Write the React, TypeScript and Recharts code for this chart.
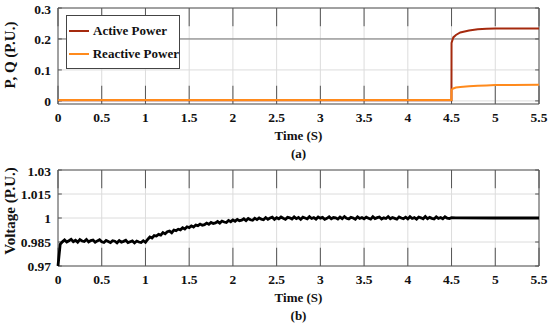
import React from "react";
import {
  LineChart,
  Line,
  XAxis,
  YAxis,
  CartesianGrid,
  ReferenceLine,
  ReferenceArea,
  Legend,
  Label,
} from "recharts";

// time axis ticks shared by both panels
const timeTicks = [0, 0.5, 1, 1.5, 2, 2.5, 3, 3.5, 4, 4.5, 5, 5.5];

// (a) active / reactive power
const powerTime = [0, 4.499, 4.5, 4.52, 4.55, 4.6, 4.7, 4.8, 4.9, 5.0, 5.2, 5.5];
const activePower = [0.002, 0.002, 0.187, 0.205, 0.213, 0.221, 0.227, 0.231, 0.233, 0.234, 0.234, 0.234];
const reactivePower = [0.003, 0.003, 0.036, 0.04, 0.043, 0.045, 0.047, 0.049, 0.05, 0.051, 0.051, 0.052];
const powerTicks = [0, 0.1, 0.2, 0.3];

// (b) voltage, sampled every 0.025 s from 0 to 4.5 s, then a settled tail
const voltStep = 0.025;
const voltSamples = [
  // 0 - 1.0 s
  0.97, 0.9836, 0.9851, 0.9863, 0.985, 0.9858, 0.9867, 0.9852, 0.9861, 0.9849,
  0.9865, 0.9856, 0.9853, 0.9866, 0.985, 0.9859, 0.9862, 0.9848, 0.9857, 0.9864,
  0.9851, 0.9847, 0.986, 0.9853, 0.9846, 0.9858, 0.9855, 0.9845, 0.9859, 0.9849,
  0.9854, 0.9861, 0.9846, 0.9852, 0.9857, 0.9844, 0.9856, 0.985, 0.9847, 0.9858,
  0.9848,
  // 1.025 - 2.5 s
  0.9866, 0.9881, 0.9875, 0.989, 0.9887, 0.9898, 0.9893, 0.9909, 0.9901, 0.9914,
  0.9918, 0.9908, 0.9925, 0.9921, 0.993, 0.9926, 0.9939, 0.9931, 0.9945, 0.994,
  0.9951, 0.9944, 0.9956, 0.9952, 0.9962, 0.9955, 0.9958, 0.9968, 0.9961, 0.9972,
  0.9966, 0.9969, 0.9978, 0.9968, 0.9981, 0.9975, 0.9972, 0.9985, 0.9977, 0.9988,
  0.998, 0.9991, 0.9983, 0.9986, 0.9995, 0.9984, 0.9997, 0.9989, 0.9986, 0.9999,
  0.999, 1.0001, 0.9993, 0.9989, 1.0003, 0.9992, 1.0, 1.0005, 0.9991, 1.0002,
  // 2.525 - 4.5 s
  0.9995, 1.0006, 0.9998, 0.9992, 1.0004, 1.0001, 0.9994, 1.0007, 0.9996, 1.0003,
  0.9991, 1.0005, 1.0, 0.9995, 1.0008, 0.9997, 1.0002, 0.9993, 1.0006, 0.9999,
  1.0004, 0.9992, 0.9998, 1.0007, 0.9995, 1.0003, 1.0001, 0.9993, 1.0006, 0.9996,
  1.0009, 0.9998, 0.9994, 1.0004, 1.0, 0.9992, 1.0007, 0.9997, 1.0003, 0.9995,
  1.0005, 0.9999, 0.9993, 1.0008, 0.9996, 1.0002, 1.0006, 0.9994, 1.0001, 0.9997,
  1.0009, 0.9995, 1.0003, 0.9998, 0.9993, 1.0007, 1.0, 0.9996, 1.0005, 0.9994,
  1.0008, 0.9997, 1.0002, 0.9993, 1.0006, 1.0001, 0.9995, 1.0009, 0.9996, 1.0004,
  0.9998, 0.9994, 1.0007, 0.9997, 1.0003, 0.9995, 1.0008, 0.9999, 0.9996, 1.0002,
];
const voltTailTime = [4.55, 5.0, 5.5];
const voltTail = [1.0001, 1.0, 1.0];
const voltTicks = [0.97, 0.985, 1, 1.015, 1.03];

const powerData = powerTime.map((t, i) => ({ t, p: activePower[i], q: reactivePower[i] }));
const voltData = [
  ...voltSamples.map((v, i) => ({ t: +(i * voltStep).toFixed(3), v })),
  ...voltTailTime.map((t, i) => ({ t, v: voltTail[i] })),
];

const FONT = "'Liberation Serif', 'Times New Roman', serif";
const ACTIVE = "#a52a0e";
const REACTIVE = "#ff8a1c";
const FRAME = "#555";
const TEXT = "#111";

const W = 550;
const H = 162;
const margin = { top: 8, right: 11, left: 0, bottom: 0 };
const X_MAX = 5.5;

const txt = (size: number): React.CSSProperties => ({
  fontFamily: FONT,
  fontWeight: 700,
  fontSize: size,
  fill: TEXT,
});

const XTick = ({ x, y, payload }: any) => (
  <text x={x} y={y} dy="0.71em" textAnchor="middle" style={txt(13.5)}>
    {payload.value}
  </text>
);

const YTick = ({ x, y, payload }: any) => (
  <text x={x} y={y} dy="0.36em" textAnchor="end" style={txt(13.5)}>
    {payload.value}
  </text>
);

// rotated y title, centred in the axis strip
const yTitle = (text: string, shift: number) => (
  <Label
    content={({ viewBox }: any) => {
      const cx = viewBox.x + 10;
      const cy = viewBox.y + viewBox.height / 2 + shift;
      return (
        <text x={cx} y={cy} transform={`rotate(-90 ${cx} ${cy})`} textAnchor="middle" dy="0.35em" style={txt(15)}>
          {text}
        </text>
      );
    }}
  />
);

// stacked captions under the time axis
const xTitle = (text: string, offset: number) => (
  <Label
    content={({ viewBox }: any) => (
      <text x={viewBox.x + viewBox.width / 2} y={viewBox.y + offset} dy="0.35em" textAnchor="middle" style={txt(13)}>
        {text}
      </text>
    )}
  />
);

// inward tick marks drawn as short segments, MATLAB style
const tickMarks = (yMin: number, yMax: number, yTicks: number[]) => {
  const xLen = (yMax - yMin) * 0.19;
  const yLen = X_MAX * 0.008;
  const out: React.ReactNode[] = [];
  timeTicks.forEach((x) => {
    out.push(
      <ReferenceLine key={`xt${x}`} segment={[{ x, y: yMax }, { x, y: yMax - xLen }]} stroke={FRAME} ifOverflow="visible" />,
      <ReferenceLine key={`xb${x}`} segment={[{ x, y: yMin }, { x, y: yMin + xLen }]} stroke={FRAME} ifOverflow="visible" />
    );
  });
  yTicks.forEach((y) => {
    out.push(
      <ReferenceLine key={`yl${y}`} segment={[{ x: 0, y }, { x: yLen, y }]} stroke={FRAME} ifOverflow="visible" />,
      <ReferenceLine key={`yr${y}`} segment={[{ x: X_MAX - yLen, y }, { x: X_MAX, y }]} stroke={FRAME} ifOverflow="visible" />
    );
  });
  return out;
};

const PowerLegend = () => (
  <div
    style={{
      border: "1px solid #444",
      background: "#fff",
      width: 114,
      padding: "6px 0 5px 2px",
      fontFamily: FONT,
      fontWeight: 700,
      fontSize: 13,
      color: TEXT,
      boxSizing: "border-box",
    }}
  >
    {[
      { name: "Active Power", color: ACTIVE },
      { name: "Reactive Power", color: REACTIVE },
    ].map((it, i) => (
      <div key={it.name} style={{ display: "flex", alignItems: "center", height: 18, marginTop: i ? 5 : 0, whiteSpace: "nowrap" }}>
        <span style={{ display: "inline-block", width: 20, height: 2, background: it.color, marginRight: 4 }} />
        <span>{it.name}</span>
      </div>
    ))}
  </div>
);

const timeAxis = (caption: string) => (
  <XAxis
    dataKey="t"
    type="number"
    domain={[0, X_MAX]}
    ticks={timeTicks}
    height={58}
    tickLine={false}
    axisLine={false}
    tickSize={0}
    tickMargin={8}
    tick={<XTick />}
  >
    {xTitle("Time (S)", 31)}
    {xTitle(caption, 49)}
  </XAxis>
);

const PowerPanel = () => (
  <LineChart width={W} height={H} data={powerData} margin={margin}>
    <CartesianGrid stroke="#dcdcdc" vertical horizontal />
    {timeAxis("(a)")}
    <YAxis
      type="number"
      domain={[-0.01, 0.3]}
      ticks={powerTicks}
      width={58}
      tickLine={false}
      axisLine={false}
      tickSize={0}
      tickMargin={7}
      tick={<YTick />}
      allowDataOverflow
    >
      {yTitle("P, Q (P.U.)", -1)}
    </YAxis>
    <ReferenceLine y={0.2} stroke="#777" />
    {tickMarks(-0.01, 0.3, powerTicks)}
    <ReferenceArea x1={0} x2={X_MAX} y1={-0.01} y2={0.3} fill="none" stroke={FRAME} ifOverflow="visible" />
    <Line dataKey="p" name="Active Power" stroke={ACTIVE} strokeWidth={2} dot={false} isAnimationActive={false} />
    <Line dataKey="q" name="Reactive Power" stroke={REACTIVE} strokeWidth={2} dot={false} isAnimationActive={false} />
    <Legend
      layout="vertical"
      align="center"
      verticalAlign="middle"
      content={() => <PowerLegend />}
      wrapperStyle={{ position: "absolute", left: 66, top: 15, width: 116 }}
    />
  </LineChart>
);

const VoltagePanel = () => (
  <LineChart width={W} height={H} data={voltData} margin={margin}>
    <CartesianGrid stroke="#dcdcdc" vertical horizontal />
    {timeAxis("(b)")}
    <YAxis
      type="number"
      domain={[0.97, 1.03]}
      ticks={voltTicks}
      width={58}
      tickLine={false}
      axisLine={false}
      tickSize={0}
      tickMargin={7}
      tick={<YTick />}
      allowDataOverflow
    >
      {yTitle("Voltage (P.U.)", -7)}
    </YAxis>
    {tickMarks(0.97, 1.03, voltTicks)}
    <ReferenceArea x1={0} x2={X_MAX} y1={0.97} y2={1.03} fill="none" stroke={FRAME} ifOverflow="visible" />
    <Line dataKey="v" stroke="#000" strokeWidth={2.8} dot={false} isAnimationActive={false} />
  </LineChart>
);

export default function App() {
  return (
    <div style={{ position: "absolute", left: 0, top: 0, width: W, height: 324, background: "#fff" }}>
      <PowerPanel />
      <VoltagePanel />
    </div>
  );
}
